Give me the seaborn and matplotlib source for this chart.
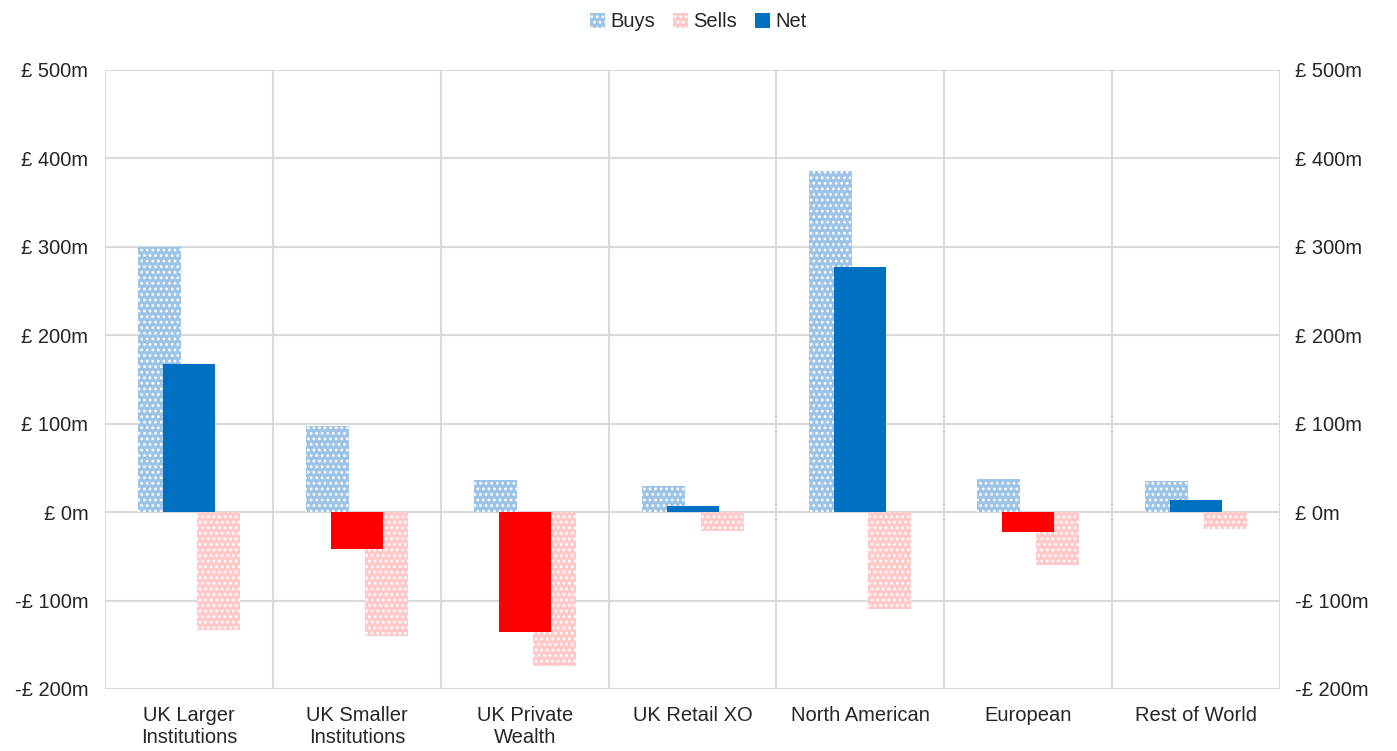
import matplotlib.pyplot as plt
import matplotlib.patches as mpatches
import matplotlib.ticker as mticker
import seaborn as sns
import numpy as np

CATEGORIES = ['UK Larger\nInstitutions', 'UK Smaller\nInstitutions', 'UK Private\nWealth',
              'UK Retail XO', 'North American', 'European', 'Rest of World']
BUYS = [300, 97, 36, 29, 386, 38, 35]
SELLS = [-133, -140, -174, -21, -109, -60, -19]
NET = [168, -42, -136, 7, 277, -22, 14]

BUY_COLOR = '#9DC3E6'
SELL_COLOR = '#FFC9C9'
NET_POS = '#0070C0'
NET_NEG = '#FF0000'
GRID = '#D9D9D9'

sns.set_style('white')
plt.rcParams['font.family'] = ['Liberation Sans', 'DejaVu Sans']
plt.rcParams['hatch.linewidth'] = 1.2

fig = plt.figure(figsize=(13.97, 7.51), dpi=100)
ax = fig.add_axes([0.0752, 0.0826, 0.8411, 0.8242])

x = np.arange(len(CATEGORIES))
ax.bar(x - 0.176, BUYS, width=0.256, color=BUY_COLOR, edgecolor='white',
       hatch='...', linewidth=0, zorder=2)
ax.bar(x + 0.176, SELLS, width=0.256, color=SELL_COLOR, edgecolor='white',
       hatch='...', linewidth=0, zorder=2)
net_colors = [NET_POS if v >= 0 else NET_NEG for v in NET]
ax.bar(x, NET, width=0.31, color=net_colors, linewidth=0, zorder=3)

ax.set_xlim(-0.5, len(CATEGORIES) - 0.5)
ax.set_ylim(-200, 500)
ax.set_yticks(range(-200, 501, 100))
fmt = mticker.FuncFormatter(lambda v, p: f'£ {int(v)}m' if v >= 0 else f'-£ {int(-v)}m')
ax.yaxis.set_major_formatter(fmt)
ax.set_xticks(x)
ax.set_xticklabels(CATEGORIES, fontsize=14.5, linespacing=1.2)

# horizontal gridlines and category separators
for v in range(-200, 501, 100):
    ax.axhline(v, color=GRID, linewidth=1.5, zorder=1)
for b in np.arange(-0.5, len(CATEGORIES), 1.0):
    ax.axvline(b, color=GRID, linewidth=1.5, zorder=1)

for s in ax.spines.values():
    s.set_visible(False)

ax.tick_params(axis='y', length=0, labelsize=14.5, pad=12)
ax.tick_params(axis='x', length=0, pad=12)

ax2 = ax.twinx()
ax2.set_ylim(ax.get_ylim())
ax2.set_yticks(range(-200, 501, 100))
ax2.yaxis.set_major_formatter(fmt)
ax2.tick_params(axis='y', length=0, labelsize=14.5, pad=11)
for s in ax2.spines.values():
    s.set_visible(False)

handles = [
    mpatches.Patch(facecolor=BUY_COLOR, edgecolor='white', hatch='...', linewidth=0, label='Buys'),
    mpatches.Patch(facecolor=SELL_COLOR, edgecolor='white', hatch='...', linewidth=0, label='Sells'),
    mpatches.Patch(facecolor=NET_POS, linewidth=0, label='Net'),
]
fig.legend(handles=handles, loc='upper center', bbox_to_anchor=(0.5, 1.005), ncol=3,
           frameon=False, fontsize=14.5, handlelength=0.75, handleheight=0.75,
           handletextpad=0.25, columnspacing=0.9, borderaxespad=0.4)

fig.savefig('out.png', dpi=100)
